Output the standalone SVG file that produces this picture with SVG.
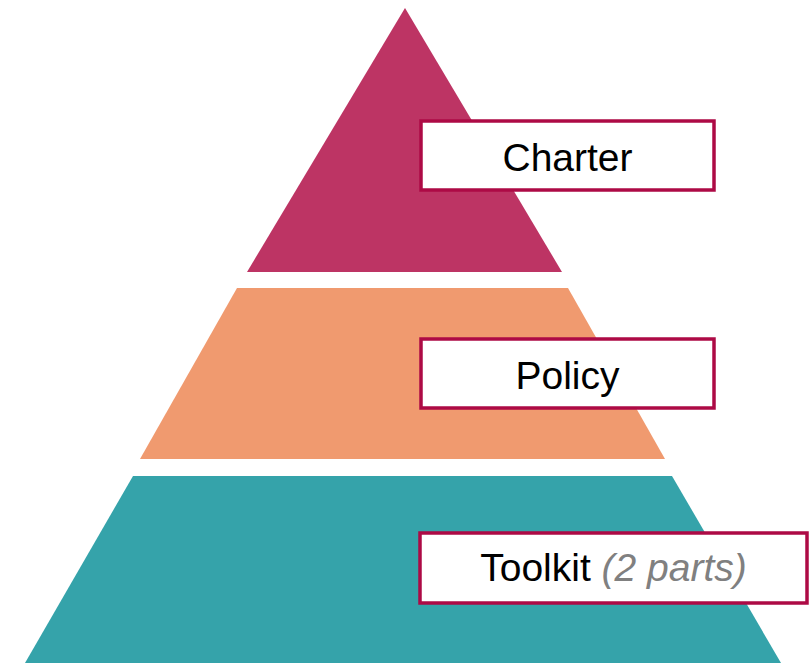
<svg xmlns="http://www.w3.org/2000/svg" width="810" height="663" viewBox="0 0 810 663">
<style>
.lbl{fill:#fff;stroke:#AD0A45;stroke-width:3.5}
.t{font-family:"Liberation Sans",Arial,sans-serif;font-size:39px;fill:#000;text-anchor:middle}
.g{fill:#808080;font-style:italic}
</style>
<rect width="810" height="663" fill="#fff"/>
<g id="tier-charter">
<polygon points="405,8 562,272 247,272" fill="#BD3464"/>
</g>
<g id="tier-policy">
<polygon points="237,288 568,288 665,459 140,459" fill="#F09A6F"/>
</g>
<g id="tier-toolkit">
<polygon points="133,476 672,476 781,663 25,663" fill="#35A3AA"/>
</g>
<g id="connectors"></g>
<g id="label-charter">
<rect class="lbl" x="421" y="121" width="293" height="69"/>
<text class="t" x="567.5" y="171">Charter</text>
</g>
<g id="label-policy">
<rect class="lbl" x="421" y="339" width="293" height="69"/>
<text class="t" x="567.5" y="389">Policy</text>
</g>
<g id="label-toolkit">
<rect class="lbl" x="420" y="533" width="387" height="70"/>
<text class="t" x="613.5" y="581">Toolkit <tspan class="g">(2 parts)</tspan></text>
</g>
</svg>
